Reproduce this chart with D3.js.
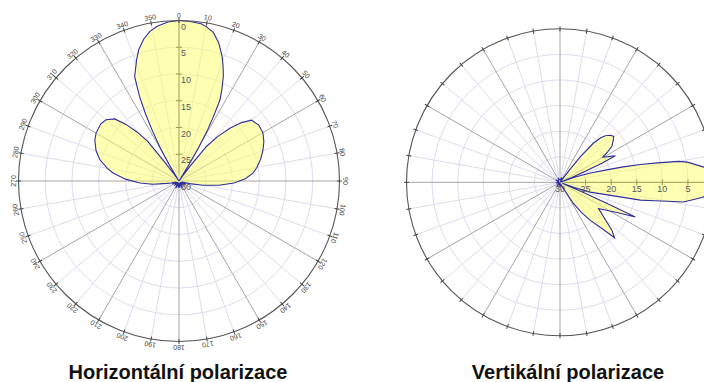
<!DOCTYPE html>
<html>
<head>
<meta charset="utf-8">
<script src="https://cdn.jsdelivr.net/npm/d3@7"></script>
<style>
  body { margin: 0; background: #fff; }
  svg { display: block; }
</style>
</head>
<body>
<svg id="chart" width="704" height="382"></svg>
<script>
// Horizontal polarization pattern: azimuth (deg) and attenuation below peak (dB)
const hAngles = [0, 4, 8, 10, 13, 16, 19, 21, 23, 25, 26.8, 28, 29.5, 30.5, 31.5, 32.5, 34,
  35.5, 36.7, 38.5, 41, 43.9, 47, 50, 55, 60, 65, 70, 75, 80, 84, 88, 92, 96, 100, 104, 108,
  115, 125, 135, 145, 155, 165, 172, 180, 188, 195, 205, 215, 225, 235, 245, 252, 256,
  259, 263, 267, 272, 277, 280, 285, 290, 296, 300, 306, 310, 314, 317, 319.5, 321.8, 323,
  324.5, 326, 327.5, 329, 330.5, 332, 333.5, 335, 337, 340.7, 343, 346, 349, 352, 356];
const hAtten = [0, 0.1, 0.3, 0.7, 1.5, 3.1, 5.3, 7, 8.8, 11, 13, 16, 19.5, 23, 26.5, 29.5, 30,
  28.6, 26.6, 21.7, 19, 16.3, 14, 12.3, 11.8, 11.9, 12.5, 13.3, 14.2, 15.2, 16.1, 17.6, 19.7, 22.5, 25.5, 28, 29.4,
  28.6, 29.6, 28.8, 29.7, 28.5, 29.6, 28.7, 29.5, 28.7, 29.6, 28.5, 29.7, 28.8, 29.6, 28.6, 29.4, 28.5,
  27.7, 25, 22.7, 20, 17.6, 16.4, 14.7, 13.5, 12.5, 12.1, 11.9, 12.2, 13.3, 15.6, 18, 20.5, 26,
  28.5, 30, 29.5, 26.5, 23, 19.5, 16, 12.5, 8.8, 6, 4.3, 2.7, 1.5, 0.8, 0.2];

// Vertical polarization pattern
const vAngles = [0, 20, 30, 36, 37.5, 38.5, 40.5, 42.5, 44.2, 47, 49.5, 52, 55.4, 57.5, 59.4,
  62, 64.4, 65.5, 66.5, 67.5, 69.5, 71, 73, 75, 76.3, 77.5, 78.7, 80, 81, 84, 87, 90,
  93, 95.9, 98, 99.1, 100, 101, 102.5, 105, 108, 110, 112, 113.5, 114.2, 114.8, 118,
  124.2, 129.4, 132.7, 135.5, 137.7, 141.5, 144.5, 147.7, 151, 160, 180, 200, 220, 240,
  260, 280, 300, 320, 340];
const vAtten = [29.5, 29.0, 29.6, 30, 27, 23.6, 19.9, 18.2, 17.3, 16.5, 16.2, 16.8, 17.7, 19, 20.3,
  19.3, 18, 21, 24.5, 27.5, 29.8, 27, 24, 20.8, 17.3, 13.9, 10.6, 6.5, 4.8, 1.7, 1.0, 0,
  1.0, 1.8, 4.4, 5.6, 8.6, 11.1, 13.9, 20.7, 23.8, 27, 29.5, 25, 20, 13.8, 17.4,
  20.9, 18.6, 16.2, 14.8, 17.8, 20.5, 22.8, 25.1, 28.7, 29.6, 29.0, 29.7, 29.1, 29.8,
  29.2, 29.7, 29.1, 29.6, 29.2];

const angleTicks = [0, 10, 20, 30, 40, 50, 60, 70, 80, 90, 100, 110, 120, 130, 140, 150, 160, 170,
  180, 190, 200, 210, 220, 230, 240, 250, 260, 270, 280, 290, 300, 310, 320, 330, 340, 350];
const dbTicks = [0, 5, 10, 15, 20, 25, 30];
const titles = ["Horizontální polarizace", "Vertikální polarizace"];

const svg = d3.select("#chart");
const rad = d => d * Math.PI / 180;

function drawPolar(opts) {
  const { cx, cy, R, angles, atten, axisAngle, showAngleLabels, dbLabels } = opts;
  const g = svg.append("g").attr("transform", `translate(${cx},${cy})`);
  const r = d3.scaleLinear().domain([30, 0]).range([0, R]);
  const pt = (a, rr) => [rr * Math.sin(rad(a)), -rr * Math.cos(rad(a))];

  // concentric dB rings
  g.selectAll("circle.ring").data(dbTicks.filter(t => t > 0 && t < 30)).enter()
    .append("circle").attr("class", "ring")
    .attr("r", d => r(d)).attr("fill", "none")
    .attr("stroke", "#dcdcee").attr("stroke-width", 1);

  // radial spokes: light every 10 deg, grey every 30 deg
  g.selectAll("line.spoke").data(angleTicks).enter()
    .append("line").attr("class", "spoke")
    .attr("x1", 0).attr("y1", 0)
    .attr("x2", d => pt(d, R)[0]).attr("y2", d => pt(d, R)[1])
    .attr("stroke", d => d === axisAngle ? "#3a3a3a" : (d % 30 === 0 ? "#a4a4a4" : "#dcdcee"))
    .attr("stroke-width", 1);

  // radial dB axis ticks
  const ax = g.append("g").attr("transform", `rotate(${axisAngle})`);
  ax.selectAll("line.dbt").data(dbTicks.filter(t => t < 30)).enter()
    .append("line").attr("class", "dbt")
    .attr("x1", -3).attr("x2", 3)
    .attr("y1", d => -r(d)).attr("y2", d => -r(d))
    .attr("stroke", "#3a3a3a").attr("stroke-width", 1);

  // pattern fill (translucent so the grid shows through) and outline
  const data = angles.map((a, i) => ({ a, v: atten[i] }));
  const line = d3.lineRadial()
    .angle(d => rad(d.a))
    .radius(d => r(Math.min(30, d.v)))
    .curve(d3.curveLinearClosed);
  g.append("path").attr("d", line(data))
    .attr("fill", "#ffff66").attr("fill-opacity", 0.5).attr("stroke", "none");
  g.append("path").attr("d", line(data))
    .attr("fill", "none").attr("stroke", "#2e2e9c").attr("stroke-width", 1.1);

  // outer ring with degree ticks
  g.append("circle").attr("r", R).attr("fill", "none")
    .attr("stroke", "#555").attr("stroke-width", 1.1);
  g.selectAll("line.deg").data(angleTicks).enter()
    .append("line").attr("class", "deg")
    .attr("transform", d => `rotate(${d})`)
    .attr("x1", 0).attr("x2", 0).attr("y1", -R + 2.5).attr("y2", -R - 2.5)
    .attr("stroke", "#444").attr("stroke-width", 1);

  if (showAngleLabels) {
    g.selectAll("text.deg").data(angleTicks).enter()
      .append("text").attr("class", "deg")
      .attr("transform", d => `rotate(${d}) translate(0,${-R - 3})`)
      .attr("text-anchor", "middle")
      .attr("font-family", "Liberation Sans, Arial, sans-serif")
      .attr("font-size", 7).attr("fill", "#444")
      .text(d => d);
  }

  // dB labels along the axis
  if (axisAngle === 0) {
    g.selectAll("text.db").data(dbLabels).enter()
      .append("text").attr("class", "db")
      .attr("x", 2).attr("y", d => -r(d) + 9)
      .attr("font-family", "Liberation Sans, Arial, sans-serif")
      .attr("font-size", 9).attr("fill", "#555")
      .text(d => d);
  } else {
    g.selectAll("text.db").data(dbLabels).enter()
      .append("text").attr("class", "db")
      .attr("x", d => r(d)).attr("y", 10)
      .attr("text-anchor", "middle")
      .attr("font-family", "Liberation Sans, Arial, sans-serif")
      .attr("font-size", 9).attr("fill", "#555")
      .text(d => d);
  }
}

drawPolar({ cx: 179, cy: 181, R: 160.5, angles: hAngles, atten: hAtten, axisAngle: 0,
  showAngleLabels: true, dbLabels: dbTicks });
drawPolar({ cx: 560, cy: 182.3, R: 153.5, angles: vAngles, atten: vAtten, axisAngle: 90,
  showAngleLabels: false, dbLabels: dbTicks.filter(t => t > 0) });

// chart titles
svg.selectAll("text.title").data(titles).enter()
  .append("text").attr("class", "title")
  .attr("x", (d, i) => i === 0 ? 178 : 568)
  .attr("y", 379)
  .attr("text-anchor", "middle")
  .attr("font-family", "Liberation Sans, Arial, sans-serif")
  .attr("font-weight", "bold")
  .attr("font-size", 20)
  .attr("fill", "#111")
  .text(d => d);
</script>
</body>
</html>
